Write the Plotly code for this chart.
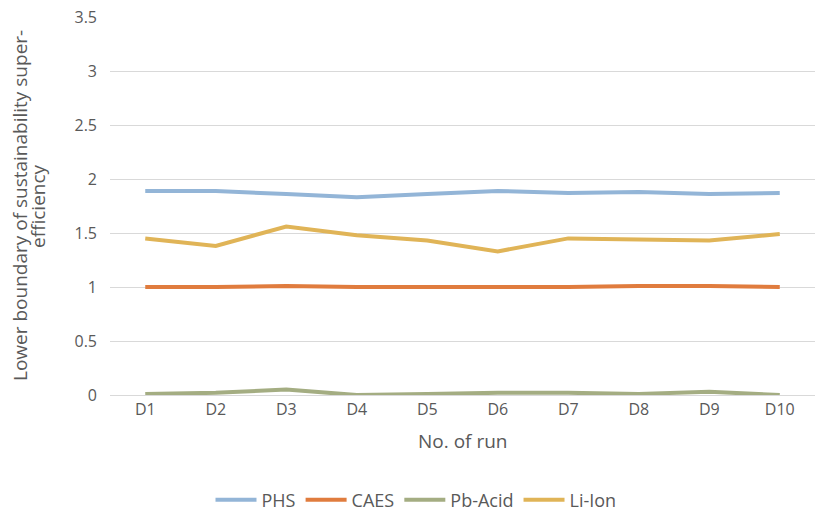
import plotly.graph_objects as go

runs = ["D1", "D2", "D3", "D4", "D5", "D6", "D7", "D8", "D9", "D10"]
phs = [1.89, 1.89, 1.86, 1.83, 1.86, 1.89, 1.87, 1.88, 1.86, 1.87]
caes = [1.00, 1.00, 1.01, 1.00, 1.00, 1.00, 1.00, 1.01, 1.01, 1.00]
pb_acid = [0.01, 0.02, 0.05, 0.00, 0.01, 0.02, 0.02, 0.01, 0.03, 0.00]
li_ion = [1.45, 1.38, 1.56, 1.48, 1.43, 1.33, 1.45, 1.44, 1.43, 1.49]

y_ticks = [0, 0.5, 1, 1.5, 2, 2.5, 3, 3.5]
y_ticktext = ["0", "0.5", "1", "1.5", "2", "2.5", "3", "3.5"]

series = [
    ("PHS", phs, "#93B5D7"),
    ("CAES", caes, "#E07C3E"),
    ("Pb-Acid", pb_acid, "#A4AD82"),
    ("Li-Ion", li_ion, "#E0B457"),
]

fig = go.Figure()
for name, vals, color in series:
    fig.add_trace(go.Scatter(
        x=list(range(len(runs))), y=vals, name=name, mode="lines",
        line=dict(color=color, width=4),
    ))

font_family = "Open Sans, Liberation Sans, sans-serif"
text_color = "#595959"
fig.update_layout(
    width=832, height=515,
    margin=dict(l=110, r=17, t=17, b=120, autoexpand=False),
    plot_bgcolor="white", paper_bgcolor="white",
    font=dict(family=font_family, size=16, color=text_color),
    showlegend=True,
    legend=dict(orientation="h", xref="container", x=0.5, xanchor="center",
                y=-0.278, yanchor="middle", itemwidth=41,
                font=dict(size=18, color=text_color)),
    xaxis=dict(
        range=[-0.5, len(runs) - 0.5],
        tickmode="array", tickvals=list(range(len(runs))), ticktext=runs,
        showgrid=False, showline=False, zeroline=False, automargin=False,
        ticks="", tickfont=dict(size=16, color=text_color),
        ticklabelstandoff=3,
    ),
    yaxis=dict(
        range=[0, 3.5], tickmode="array", tickvals=y_ticks, ticktext=y_ticktext,
        showgrid=True, gridcolor="#D9D9D9", gridwidth=1,
        zeroline=True, zerolinecolor="#D9D9D9", zerolinewidth=1,
        showline=False, ticks="", tickfont=dict(size=16, color=text_color),
        ticklabelstandoff=12, automargin=False,
    ),
    annotations=[
        dict(text="No. of run", xref="paper", yref="paper", x=0.5, y=-0.1217,
             xanchor="center", yanchor="middle", showarrow=False,
             font=dict(size=19, color=text_color)),
        dict(text="Lower boundary of sustainability super-", xref="paper", yref="paper",
             x=0, xanchor="center", y=0.5, yanchor="middle", textangle=-90,
             showarrow=False, font=dict(size=19, color=text_color)),
        dict(text="efficiency", xref="paper", yref="paper",
             x=0, xanchor="center", y=0.5, yanchor="middle", textangle=-90,
             showarrow=False, font=dict(size=19, color=text_color)),
    ],
)

# place the two y-title lines at fixed pixel offsets left of the plot area
plot_w = 832 - 110 - 17
for ann, px in zip(fig.layout.annotations[1:], [20, 38]):
    ann.x = (px - 110) / plot_w

fig.write_html("out.html")
